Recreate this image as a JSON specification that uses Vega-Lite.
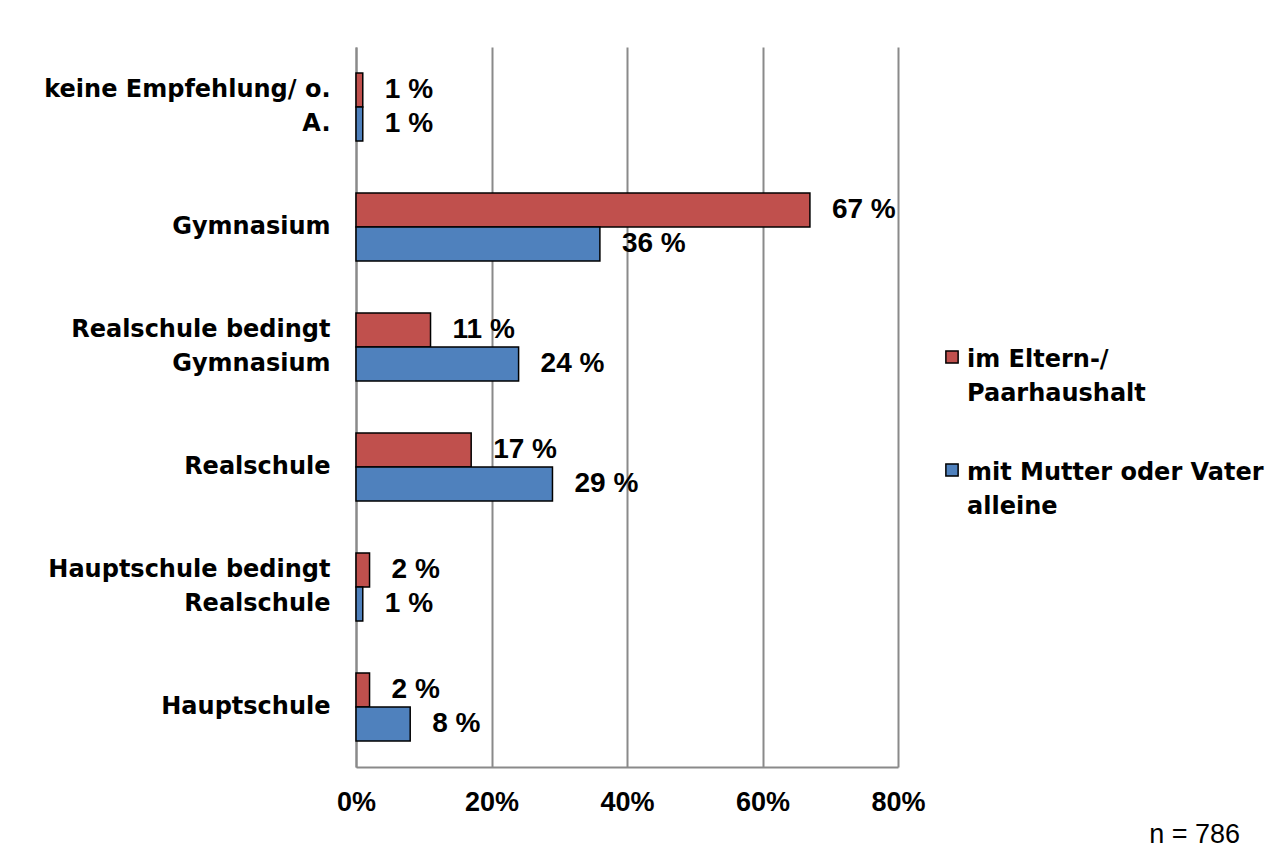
{
  "$schema": "https://vega.github.io/schema/vega-lite/v6.json",
  "autosize": "none",
  "width": 542,
  "height": 720,
  "padding": {"left": 356, "top": 47, "right": 388, "bottom": 92},
  "background": "white",
  "title": {
    "text": "n = 786",
    "orient": "bottom",
    "anchor": "end",
    "frame": "group",
    "dx": 342,
    "offset": 7,
    "font": "Liberation Sans",
    "fontSize": 27,
    "fontWeight": "normal",
    "color": "black"
  },
  "config": {
    "view": {"stroke": null},
    "axis": {"gridColor": "#8a8a8a", "gridWidth": 2, "domainColor": "#8a8a8a", "domainWidth": 2}
  },
  "data": {
    "values": [
      {"schulform": "keine Empfehlung/ o. A.", "gruppe": "im Eltern-/ Paarhaushalt", "wert": 1},
      {"schulform": "keine Empfehlung/ o. A.", "gruppe": "mit Mutter oder Vater alleine", "wert": 1},
      {"schulform": "Gymnasium", "gruppe": "im Eltern-/ Paarhaushalt", "wert": 67},
      {"schulform": "Gymnasium", "gruppe": "mit Mutter oder Vater alleine", "wert": 36},
      {"schulform": "Realschule bedingt Gymnasium", "gruppe": "im Eltern-/ Paarhaushalt", "wert": 11},
      {"schulform": "Realschule bedingt Gymnasium", "gruppe": "mit Mutter oder Vater alleine", "wert": 24},
      {"schulform": "Realschule", "gruppe": "im Eltern-/ Paarhaushalt", "wert": 17},
      {"schulform": "Realschule", "gruppe": "mit Mutter oder Vater alleine", "wert": 29},
      {"schulform": "Hauptschule bedingt Realschule", "gruppe": "im Eltern-/ Paarhaushalt", "wert": 2},
      {"schulform": "Hauptschule bedingt Realschule", "gruppe": "mit Mutter oder Vater alleine", "wert": 1},
      {"schulform": "Hauptschule", "gruppe": "im Eltern-/ Paarhaushalt", "wert": 2},
      {"schulform": "Hauptschule", "gruppe": "mit Mutter oder Vater alleine", "wert": 8}
    ]
  },
  "encoding": {
    "y": {
      "field": "schulform",
      "type": "nominal",
      "sort": ["keine Empfehlung/ o. A.", "Gymnasium", "Realschule bedingt Gymnasium", "Realschule", "Hauptschule bedingt Realschule", "Hauptschule"],
      "scale": {"paddingInner": 0.433, "paddingOuter": 0.2165},
      "axis": {
        "title": null,
        "ticks": false,
        "labelPadding": 26,
        "labelFont": "DejaVu Sans",
        "labelFontSize": 24,
        "labelFontWeight": "bold",
        "labelColor": "black",
        "labelLimit": 400,
        "labelLineHeight": 34,
        "labelExpr": "datum.label == 'keine Empfehlung/ o. A.' ? ['keine Empfehlung/ o.', 'A.'] : datum.label == 'Realschule bedingt Gymnasium' ? ['Realschule bedingt', 'Gymnasium'] : datum.label == 'Hauptschule bedingt Realschule' ? ['Hauptschule bedingt', 'Realschule'] : datum.label",
        "labelOffset": {
          "condition": {"test": "datum.value == 'Gymnasium' || datum.value == 'Realschule' || datum.value == 'Hauptschule'", "value": 0},
          "value": -17
        }
      }
    },
    "yOffset": {
      "field": "gruppe",
      "type": "nominal",
      "sort": ["im Eltern-/ Paarhaushalt", "mit Mutter oder Vater alleine"]
    },
    "x": {
      "field": "wert",
      "type": "quantitative",
      "scale": {"domain": [0, 80]},
      "axis": {
        "title": null,
        "values": [0, 20, 40, 60, 80],
        "ticks": false,
        "labelFlush": false,
        "labelPadding": 22,
        "labelFont": "Liberation Sans",
        "labelFontSize": 27,
        "labelFontWeight": "bold",
        "labelColor": "black",
        "labelExpr": "datum.value + '%'",
        "grid": true
      }
    }
  },
  "layer": [
    {
      "mark": {"type": "bar", "stroke": "black", "strokeWidth": 1.5},
      "encoding": {
        "color": {
          "field": "gruppe",
          "type": "nominal",
          "sort": ["im Eltern-/ Paarhaushalt", "mit Mutter oder Vater alleine"],
          "scale": {"range": ["#C0504D", "#4F81BD"]},
          "legend": {
            "title": null,
            "orient": "none",
            "legendX": 584,
            "legendY": 298,
            "symbolType": "square",
            "symbolSize": 150,
            "symbolStrokeColor": "black",
            "symbolStrokeWidth": 1.5,
            "labelFont": "DejaVu Sans",
            "labelFontSize": 24,
            "labelFontWeight": "bold",
            "labelColor": "black",
            "labelLimit": 400,
            "labelOffset": 3,
            "rowPadding": 52,
            "labelExpr": "datum.label == 'im Eltern-/ Paarhaushalt' ? ['im Eltern-/', 'Paarhaushalt'] : ['mit Mutter oder Vater', 'alleine']",
            "labelBaseline": "top",
            "encode": {"labels": {"update": {"lineHeight": {"value": 34}, "dy": {"value": -9}}}}
          }
        }
      }
    },
    {
      "mark": {"type": "text", "align": "left", "dx": 22, "font": "Liberation Sans", "fontSize": 28, "fontWeight": "bold", "color": "black", "text": {"expr": "datum.wert + ' %'"}},
      "encoding": {}
    }
  ]
}
